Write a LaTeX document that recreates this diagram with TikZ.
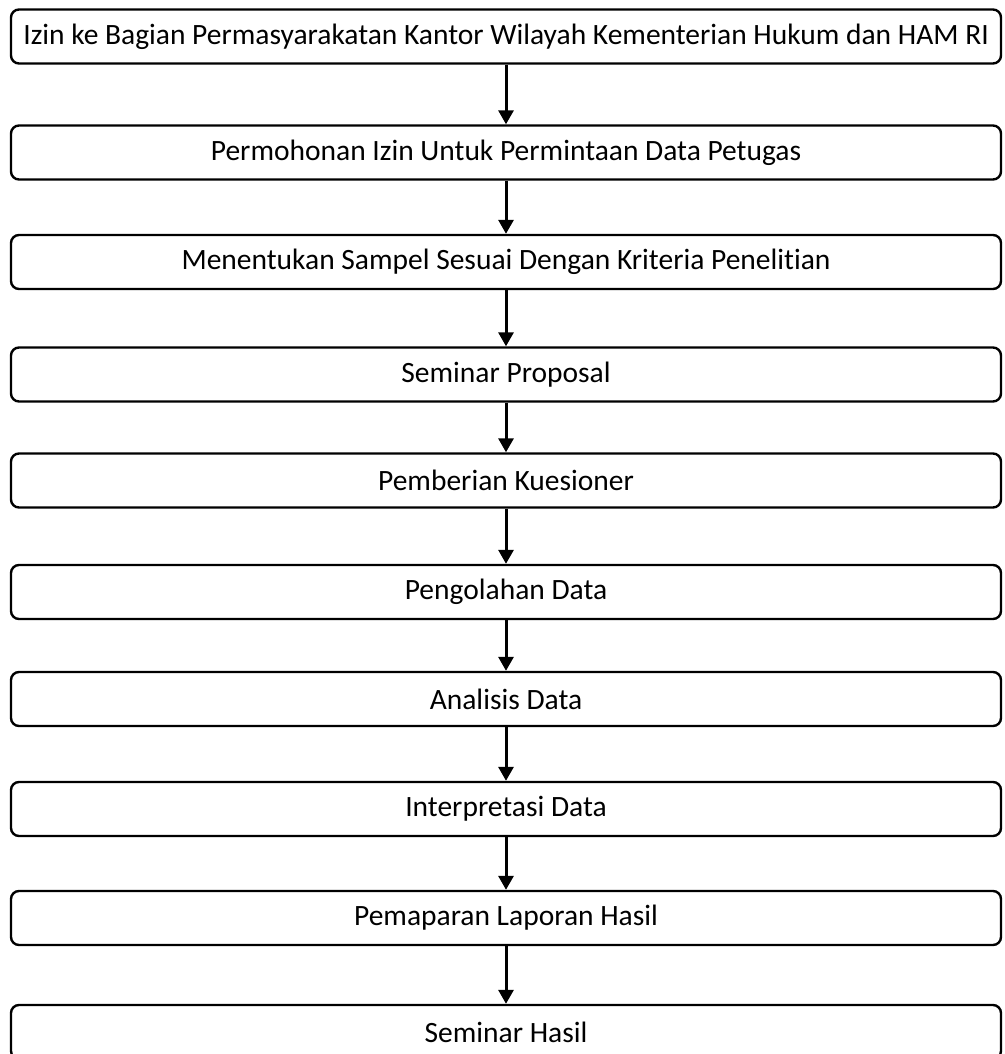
\documentclass[tikz,border=0pt]{standalone}
\usepackage{fontspec}
\setmainfont{Carlito}[Ligatures=NoCommon]
\usetikzlibrary{positioning, arrows.meta}

\begin{document}
\begin{tikzpicture}[x=1pt,y=-1pt,
  tahap/.style={draw,line width=2.4pt,rounded corners=8pt,minimum width=990pt,minimum height=54pt,inner sep=0pt,font=\fontsize{29.5}{35}\selectfont},
  panah/.style={-{Triangle[length=14pt,width=15pt]},line width=3pt}]
\useasboundingbox (0,0) rectangle (1004,1054);
\clip (0,0) rectangle (1004,1054);
\node[tahap] (t1) at (506,36.5) {Izin ke Bagian Permasyarakatan Kantor Wilayah Kementerian Hukum dan HAM RI};
\node[tahap] (t2) at (506,152.5) {Permohonan Izin Untuk Permintaan Data Petugas};
\node[tahap] (t3) at (506,262) {Menentukan Sampel Sesuai Dengan Kriteria Penelitian};
\node[tahap] (t4) at (506,374.5) {Seminar Proposal};
\node[tahap] (t5) at (506,480.5) {Pemberian Kuesioner};
\node[tahap] (t6) at (506,592) {Pengolahan Data};
\node[tahap] (t7) at (506,699) {Analisis Data};
\node[tahap] (t8) at (506,809) {Interpretasi Data};
\node[tahap] (t9) at (506,918) {Pemaparan Laporan Hasil};
\node[tahap] (t10) at (506,1032) {Seminar Hasil};
\foreach \a/\b in {t1/t2,t2/t3,t3/t4,t4/t5,t5/t6,t6/t7,t7/t8,t8/t9,t9/t10}
  \draw[panah] (\a) -- (\b);
\end{tikzpicture}
\end{document}
